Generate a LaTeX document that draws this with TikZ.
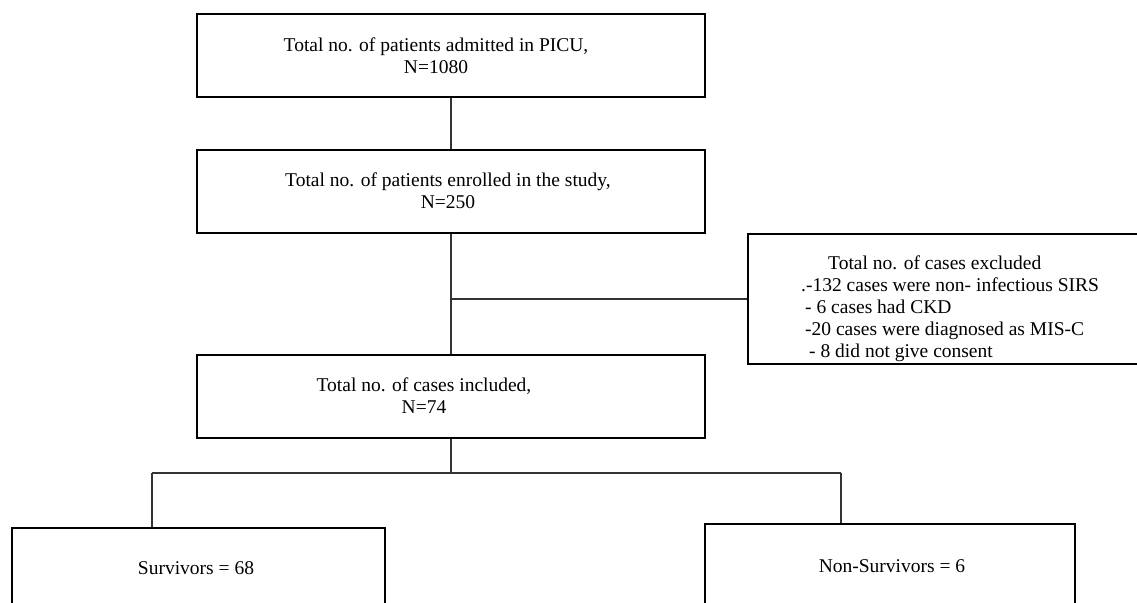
\documentclass[tikz,border=0pt]{standalone}
\usepackage{fontspec}
\setmainfont{Liberation Serif}
\usepackage{tikz}

\begin{document}
\begin{tikzpicture}[x=1pt,y=-1pt,
    font=\fontsize{19.5}{22}\selectfont,
    box/.style={draw=black,line width=2.2pt,rectangle,inner sep=0pt,anchor=north west},
    link/.style={draw=black!80,line width=1.4pt},
    txt/.style={align=center,inner sep=0pt}]
  \useasboundingbox (0,0) rectangle (1137,602);
  \node[box,minimum width=508,minimum height=83] (admit) at (196,13) {};
  \node[txt] (admittxt) at (436,56) {Total no. of patients admitted in PICU,\\N=1080};
  \node[box,minimum width=508,minimum height=83] (enrol) at (196,149) {};
  \node[txt] (enroltxt) at (448,191) {Total no. of patients enrolled in the study,\\N=250};
  \node[box,minimum width=420,minimum height=130] (excl) at (747,233) {};
  \node[txt,align=left,anchor=west] (excltxt) at (801,309)
    {\hspace*{27pt}Total no. of cases excluded\\
     .-132 cases were non- infectious SIRS\\
     \hspace*{4pt}- 6 cases had CKD\\
     \hspace*{4pt}-20 cases were diagnosed as MIS-C\\
     \hspace*{8pt}- 8 did not give consent};
  \node[box,minimum width=508,minimum height=83] (incl) at (196,354) {};
  \node[txt] (incltxt) at (424,396) {Total no. of cases included,\\N=74};
  \node[box,minimum width=373,minimum height=100] (surv) at (11,527) {};
  \node[txt] (survtxt) at (196,568) {Survivors = 68};
  \node[box,minimum width=370,minimum height=100] (nonsurv) at (704,523) {};
  \node[txt] (nonsurvtxt) at (892,566) {Non-Survivors = 6};
  % connectors
  \draw[link] (admit.south) -- (enrol.north);
  \draw[link] (enrol.south) -- (incl.north);
  \coordinate (cut) at (enrol.south |- excl.west);
  \draw[link] (cut) -- (excl.west);
  \coordinate (lb) at (152,473);
  \coordinate (rb) at (841,473);
  \draw[link] (incl.south) -- (incl.south |- lb);
  \draw[link] (lb) -- (rb);
  \draw[link] (lb) -- (lb |- surv.north);
  \draw[link] (rb) -- (rb |- nonsurv.north);
\end{tikzpicture}
\end{document}
